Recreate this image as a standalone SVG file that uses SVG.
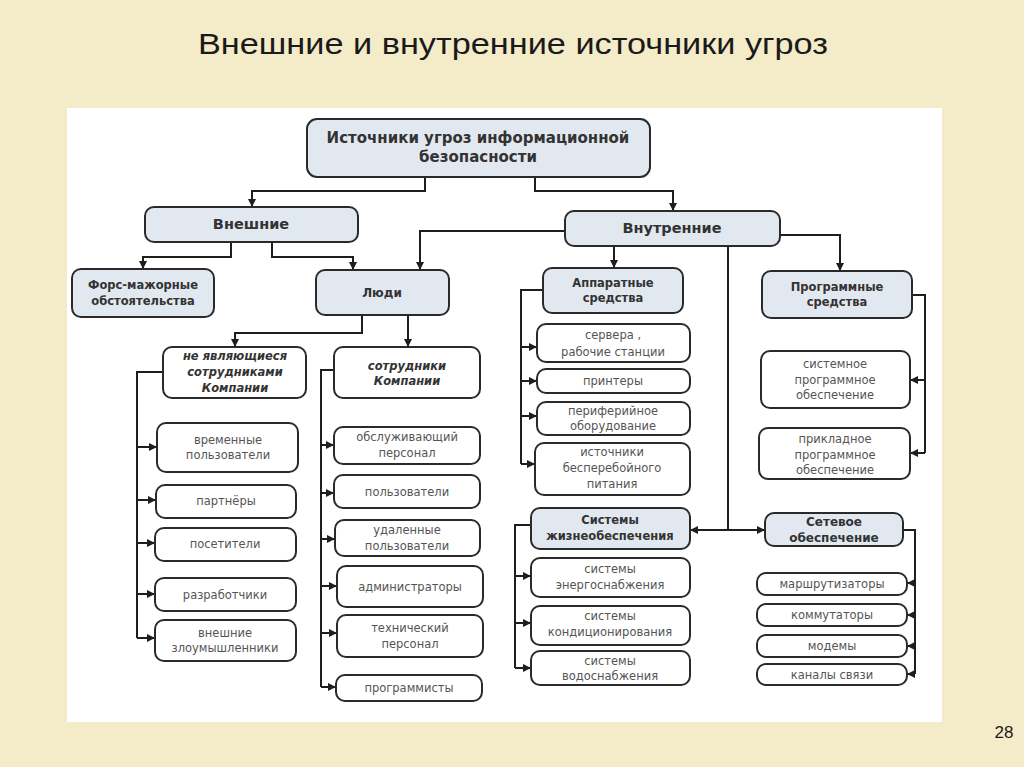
<svg xmlns="http://www.w3.org/2000/svg" width="1024" height="767" viewBox="0 0 1024 767">
<defs>
<style>
.bg{fill:#f4ebc9}
.panel{fill:#ffffff}
.hd{fill:#e2e8f0;stroke:#2a2a2a;stroke-width:2}
.lf{fill:#ffffff;stroke:#2a2a2a;stroke-width:2}
.c{fill:none;stroke:#1e1e1e;stroke-width:2}
.tb{font-family:"DejaVu Sans",Verdana,sans-serif;font-weight:bold;fill:#333;text-anchor:middle}
.ti{font-family:"DejaVu Sans",Verdana,sans-serif;font-weight:bold;font-style:italic;fill:#333;text-anchor:middle;font-size:11.5px}
.tl{font-family:"DejaVu Sans",Verdana,sans-serif;fill:#555;text-anchor:middle;font-size:11.5px}
</style>
<marker id="ar" viewBox="0 0 10 10" refX="10" refY="5" markerWidth="8" markerHeight="8" markerUnits="userSpaceOnUse" orient="auto">
<path d="M0,0 L10,5 L0,10 z" fill="#1e1e1e"/>
</marker>
</defs>
<rect class="bg" x="0" y="0" width="1024" height="767"/>
<rect class="panel" x="67" y="108" width="875" height="614"/>
<text x="513" y="54" font-family="'Liberation Sans',Arial,sans-serif" font-size="30" fill="#1a1a1a" text-anchor="middle" textLength="630" lengthAdjust="spacingAndGlyphs">Внешние и внутренние источники угроз</text>
<text x="1004" y="738" font-family="'Liberation Sans',Arial,sans-serif" font-size="17" fill="#1a1a1a" text-anchor="middle">28</text>

<g id="connectors">
<path class="c" d="M425,177 V191 H252 V207" marker-end="url(#ar)"/>
<path class="c" d="M535,177 V191 H673 V211" marker-end="url(#ar)"/>
<path class="c" d="M231,242 V257 H143 V269" marker-end="url(#ar)"/>
<path class="c" d="M272,242 V257 H353 V270" marker-end="url(#ar)"/>
<path class="c" d="M565,231 H420 V270" marker-end="url(#ar)"/>
<path class="c" d="M614,246 V268" marker-end="url(#ar)"/>
<path class="c" d="M780,235 H840 V271" marker-end="url(#ar)"/>
<path class="c" d="M728,246 V530"/>
<path class="c" d="M728,530 H690" marker-end="url(#ar)"/>
<path class="c" d="M728,530 H765" marker-end="url(#ar)"/>
<path class="c" d="M362,315 V333 H235 V347" marker-end="url(#ar)"/>
<path class="c" d="M408,315 V347" marker-end="url(#ar)"/>
<path class="c" d="M163,372 H137 V638"/>
<path class="c" d="M137,447 H157" marker-end="url(#ar)"/>
<path class="c" d="M137,500 H156" marker-end="url(#ar)"/>
<path class="c" d="M137,543 H155" marker-end="url(#ar)"/>
<path class="c" d="M137,594 H155" marker-end="url(#ar)"/>
<path class="c" d="M137,638 H155" marker-end="url(#ar)"/>
<path class="c" d="M334,370 H321 V687"/>
<path class="c" d="M321,445 H334" marker-end="url(#ar)"/>
<path class="c" d="M321,493 H334" marker-end="url(#ar)"/>
<path class="c" d="M321,539 H335" marker-end="url(#ar)"/>
<path class="c" d="M321,586 H337" marker-end="url(#ar)"/>
<path class="c" d="M321,633 H337" marker-end="url(#ar)"/>
<path class="c" d="M321,687 H336" marker-end="url(#ar)"/>
<path class="c" d="M543,290 H521 V464"/>
<path class="c" d="M521,347 H537" marker-end="url(#ar)"/>
<path class="c" d="M521,381 H537" marker-end="url(#ar)"/>
<path class="c" d="M521,416 H537" marker-end="url(#ar)"/>
<path class="c" d="M521,464 H535" marker-end="url(#ar)"/>
<path class="c" d="M912,295 H925 V453"/>
<path class="c" d="M925,380 H910" marker-end="url(#ar)"/>
<path class="c" d="M925,453 H910" marker-end="url(#ar)"/>
<path class="c" d="M531,525 H515 V668"/>
<path class="c" d="M515,576 H531" marker-end="url(#ar)"/>
<path class="c" d="M515,623 H531" marker-end="url(#ar)"/>
<path class="c" d="M515,668 H531" marker-end="url(#ar)"/>
<path class="c" d="M903,530 H915 V674"/>
<path class="c" d="M915,583 H907" marker-end="url(#ar)"/>
<path class="c" d="M915,615 H907" marker-end="url(#ar)"/>
<path class="c" d="M915,646 H907" marker-end="url(#ar)"/>
<path class="c" d="M915,674 H907" marker-end="url(#ar)"/>
</g>

<g id="root"><rect class="hd" x="307" y="119" width="343" height="58" rx="10"/>
<text class="tb" font-size="15" x="478" y="143">Источники угроз информационной</text>
<text class="tb" font-size="15" x="478" y="162">безопасности</text></g>

<g id="vneshnie"><rect class="hd" x="145" y="207" width="213" height="35" rx="9"/>
<text class="tb" font-size="14.5" x="251" y="229">Внешние</text></g>

<g id="vnutrennie"><rect class="hd" x="565" y="211" width="215" height="35" rx="9"/>
<text class="tb" font-size="14.5" x="672" y="233">Внутренние</text></g>

<g id="fors"><rect class="hd" x="72" y="269" width="142" height="48" rx="9"/>
<text class="tb" font-size="11.5" x="143" y="289">Форс-мажорные</text>
<text class="tb" font-size="11.5" x="143" y="305">обстоятельства</text></g>

<g id="lyudi"><rect class="hd" x="316" y="270" width="133" height="45" rx="9"/>
<text class="tb" font-size="12" x="382" y="297">Люди</text></g>

<g id="apparat"><rect class="hd" x="543" y="268" width="140" height="45" rx="9"/>
<text class="tb" font-size="11.5" x="613" y="287">Аппаратные</text>
<text class="tb" font-size="11.5" x="613" y="302">средства</text></g>

<g id="program"><rect class="hd" x="762" y="271" width="150" height="47" rx="9"/>
<text class="tb" font-size="11.5" x="837" y="291">Программные</text>
<text class="tb" font-size="11.5" x="837" y="306">средства</text></g>

<g id="ne-sotr"><rect class="lf" x="163" y="347" width="143" height="51" rx="9"/>
<text class="ti" x="235" y="360">не являющиеся</text>
<text class="ti" x="235" y="376">сотрудниками</text>
<text class="ti" x="235" y="392">Компании</text></g>

<g id="sotr"><rect class="lf" x="334" y="347" width="146" height="51" rx="9"/>
<text class="ti" x="407" y="370">сотрудники</text>
<text class="ti" x="407" y="385">Компании</text></g>

<g id="vremennye"><rect class="lf" x="157" y="423" width="141" height="49" rx="9"/>
<text class="tl" x="228" y="444">временные</text>
<text class="tl" x="228" y="459">пользователи</text></g>

<g id="partnery"><rect class="lf" x="156" y="485" width="140" height="33" rx="9"/>
<text class="tl" x="226" y="505">партнёры</text></g>

<g id="posetiteli"><rect class="lf" x="155" y="528" width="141" height="33" rx="9"/>
<text class="tl" x="225" y="548">посетители</text></g>

<g id="razrab"><rect class="lf" x="155" y="578" width="141" height="33" rx="9"/>
<text class="tl" x="225" y="599">разработчики</text></g>

<g id="zloum"><rect class="lf" x="155" y="620" width="141" height="41" rx="9"/>
<text class="tl" x="225" y="637">внешние</text>
<text class="tl" x="225" y="652">злоумышленники</text></g>

<g id="obsl"><rect class="lf" x="334" y="427" width="146" height="37" rx="9"/>
<text class="tl" x="407" y="441">обслуживающий</text>
<text class="tl" x="407" y="457">персонал</text></g>

<g id="polz"><rect class="lf" x="334" y="475" width="146" height="33" rx="9"/>
<text class="tl" x="407" y="496">пользователи</text></g>

<g id="udal"><rect class="lf" x="335" y="520" width="145" height="36" rx="9"/>
<text class="tl" x="407" y="534">удаленные</text>
<text class="tl" x="407" y="550">пользователи</text></g>

<g id="admin"><rect class="lf" x="337" y="566" width="146" height="41" rx="9"/>
<text class="tl" x="410" y="591">администраторы</text></g>

<g id="tehn"><rect class="lf" x="337" y="615" width="146" height="42" rx="9"/>
<text class="tl" x="410" y="632">технический</text>
<text class="tl" x="410" y="648">персонал</text></g>

<g id="programmisty"><rect class="lf" x="336" y="675" width="146" height="26" rx="9"/>
<text class="tl" x="409" y="692">программисты</text></g>

<g id="servera"><rect class="lf" x="537" y="324" width="153" height="38" rx="9"/>
<text class="tl" x="613" y="339">сервера ,</text>
<text class="tl" x="613" y="356">рабочие станции</text></g>

<g id="printery"><rect class="lf" x="537" y="369" width="153" height="24" rx="9"/>
<text class="tl" x="613" y="385">принтеры</text></g>

<g id="perif"><rect class="lf" x="537" y="402" width="153" height="33" rx="9"/>
<text class="tl" x="613" y="415">периферийное</text>
<text class="tl" x="613" y="430">оборудование</text></g>

<g id="ibp"><rect class="lf" x="535" y="443" width="155" height="52" rx="9"/>
<text class="tl" x="612" y="456">источники</text>
<text class="tl" x="612" y="472">бесперебойного</text>
<text class="tl" x="612" y="488">питания</text></g>

<g id="zhizn"><rect class="hd" x="531" y="508" width="159" height="41" rx="9"/>
<text class="tb" font-size="11.5" x="610" y="524">Системы</text>
<text class="tb" font-size="11.5" x="610" y="540">жизнеобеспечения</text></g>

<g id="energo"><rect class="lf" x="531" y="558" width="159" height="39" rx="9"/>
<text class="tl" x="610" y="573">системы</text>
<text class="tl" x="610" y="589">энергоснабжения</text></g>

<g id="kondic"><rect class="lf" x="531" y="606" width="159" height="39" rx="9"/>
<text class="tl" x="610" y="620">системы</text>
<text class="tl" x="610" y="636">кондиционирования</text></g>

<g id="vodo"><rect class="lf" x="531" y="651" width="159" height="34" rx="9"/>
<text class="tl" x="610" y="665">системы</text>
<text class="tl" x="610" y="680">водоснабжения</text></g>

<g id="setevoe"><rect class="hd" x="765" y="513" width="138" height="33" rx="9"/>
<text class="tb" font-size="12" x="834" y="526">Сетевое</text>
<text class="tb" font-size="12" x="834" y="542">обеспечение</text></g>

<g id="marsh"><rect class="lf" x="757" y="573" width="150" height="22" rx="9"/>
<text class="tl" x="832" y="588">маршрутизаторы</text></g>

<g id="kommut"><rect class="lf" x="757" y="604" width="150" height="22" rx="9"/>
<text class="tl" x="832" y="619">коммутаторы</text></g>

<g id="modemy"><rect class="lf" x="757" y="635" width="150" height="22" rx="9"/>
<text class="tl" x="832" y="650">модемы</text></g>

<g id="kanaly"><rect class="lf" x="757" y="664" width="150" height="21" rx="9"/>
<text class="tl" x="832" y="679">каналы связи</text></g>

<g id="sistemnoe"><rect class="lf" x="761" y="351" width="149" height="57" rx="9"/>
<text class="tl" x="835" y="368">системное</text>
<text class="tl" x="835" y="384">программное</text>
<text class="tl" x="835" y="399">обеспечение</text></g>

<g id="prikladnoe"><rect class="lf" x="759" y="428" width="151" height="51" rx="9"/>
<text class="tl" x="835" y="443">прикладное</text>
<text class="tl" x="835" y="459">программное</text>
<text class="tl" x="835" y="474">обеспечение</text></g>
</svg>
